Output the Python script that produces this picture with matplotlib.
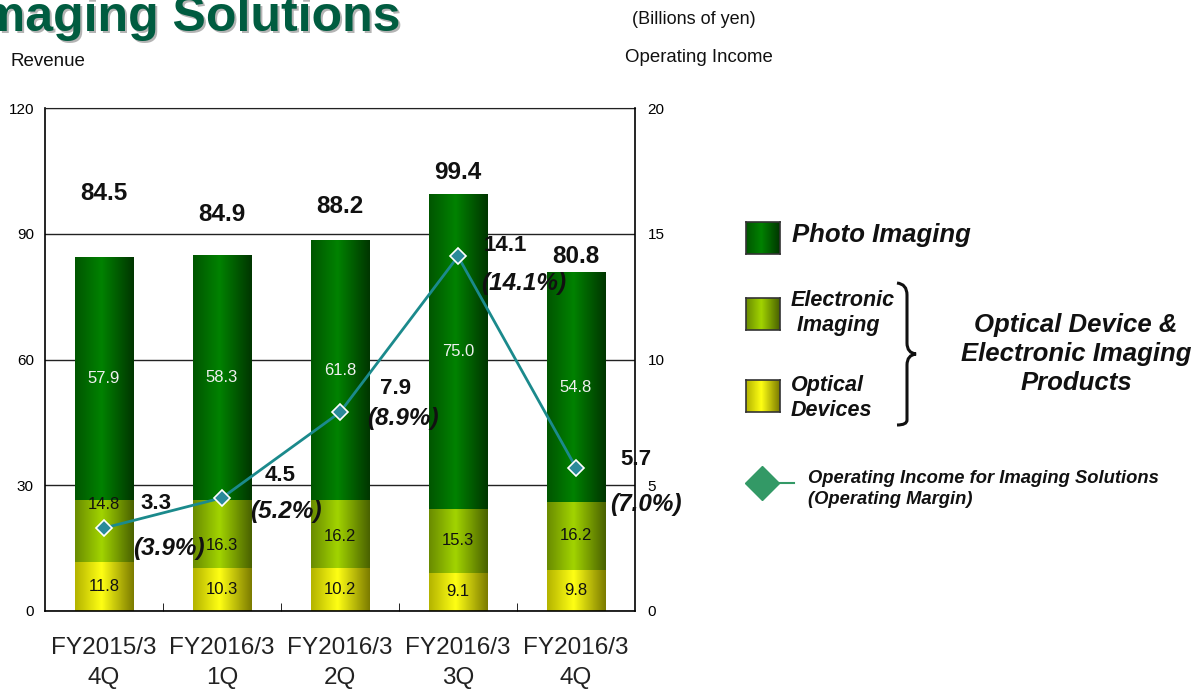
import numpy as np
import matplotlib
matplotlib.use("Agg")
import matplotlib.pyplot as plt
from matplotlib.colors import LinearSegmentedColormap
from matplotlib.path import Path
from matplotlib.patches import PathPatch
from matplotlib.transforms import Affine2D

plt.rcParams['font.family'] = ['Liberation Sans', 'DejaVu Sans']

quarters = ["FY2015/3\n4Q", "FY2016/3\n1Q", "FY2016/3\n2Q", "FY2016/3\n3Q", "FY2016/3\n4Q"]
optical = [11.8, 10.3, 10.2, 9.1, 9.8]
electronic = [14.8, 16.3, 16.2, 15.3, 16.2]
photo = [57.9, 58.3, 61.8, 75.0, 54.8]
totals = [84.5, 84.9, 88.2, 99.4, 80.8]
op_income = [3.3, 4.5, 7.9, 14.1, 5.7]
op_margin = ["(3.9%)", "(5.2%)", "(8.9%)", "(14.1%)", "(7.0%)"]

# how far above each bar the total is printed
total_gap = [15.2, 9.6, 8.2, 5.1, 3.7]
# where the electronic label sits inside its segment (0 = bottom, 1 = top)
elec_pos = [0.92, 0.33, 0.47, 0.5, 0.5]
# label offsets (pixels) from each operating income point
val_off = [(52, 25), (58, 22), (56, 24), (47, 11), (60, 8)]
pct_off = [(65, -20), (64, -14), (63, -6), (66, -27), (70, -37)]

W, H = 1203, 689
fig = plt.figure(figsize=(W / 100, H / 100), dpi=100)

# pixel helper for figure-level decorations
def px(x, y):
    return x / W, 1 - y / H

pix = Affine2D().scale(1 / W, -1 / H).translate(0, 1) + fig.transFigure

def shade(name, left, mid, right):
    return LinearSegmentedColormap.from_list(name, [(0, left), (0.45, mid), (1, right)])

cmaps = {
    'photo': shade('p', '#005600', '#008200', '#003600'),
    'elec': shade('e', '#6a8c00', '#a2d400', '#4a6200'),
    'opt': shade('o', '#b4b400', '#ffff14', '#7c7c00'),
}
grad = np.linspace(0, 1, 64).reshape(1, -1)

ax = fig.add_axes([45 / W, 1 - 611 / H, 590 / W, 503 / H])
x = np.arange(len(quarters))
bw = 0.5

for i in x:
    base = 0
    for val, key in [(optical[i], 'opt'), (electronic[i], 'elec'), (photo[i], 'photo')]:
        ax.imshow(grad, extent=(i - bw / 2, i + bw / 2, base, base + val),
                  aspect='auto', cmap=cmaps[key], zorder=2, interpolation='bilinear')
        base += val
    ax.text(i, optical[i] / 2, f"{optical[i]:.1f}", ha='center', va='center',
            fontsize=12, color='#111111', zorder=4)
    ax.text(i, optical[i] + electronic[i] * elec_pos[i], f"{electronic[i]:.1f}",
            ha='center', va='center', fontsize=12, color='#111111', zorder=4)
    ax.text(i, optical[i] + electronic[i] + photo[i] / 2, f"{photo[i]:.1f}",
            ha='center', va='center', fontsize=12, color='#f0f0f0', zorder=4)
    ax.text(i, totals[i] + total_gap[i], f"{totals[i]:.1f}", ha='center', va='center',
            fontsize=17.5, fontweight='bold', color='#111111', zorder=4)

ax.set_xlim(-0.5, len(quarters) - 0.5)
ax.set_ylim(0, 120)
ax.set_yticks([0, 30, 60, 90, 120])
ax.yaxis.grid(True, color='#222222', linewidth=1)
ax.set_axisbelow(True)
ax.set_xticks(x)
ax.set_xticklabels(quarters, fontsize=17.5, color='#222222', linespacing=1.42)
ax.set_xticks(np.arange(0.5, len(quarters) - 1, 1), minor=True)
ax.tick_params(axis='x', which='major', length=0, pad=19)
ax.tick_params(axis='x', which='minor', direction='in', length=6, color='black')
ax.tick_params(axis='y', labelsize=11, length=0, pad=8)
for s in ['left', 'bottom']:
    ax.spines[s].set_color('black')
    ax.spines[s].set_linewidth(1.2)
ax.spines['top'].set_color('#222222')
ax.spines['right'].set_visible(False)

ax2 = ax.twinx()
ax2.set_ylim(0, 20)
ax2.set_yticks([0, 5, 10, 15, 20])
ax2.tick_params(axis='y', labelsize=11, length=0, pad=9)
ax2.spines['right'].set_color('black')
ax2.spines['right'].set_linewidth(1.2)
for s in ['left', 'top', 'bottom']:
    ax2.spines[s].set_visible(False)
ax2.plot(x, op_income, color='#1b8a8c', linewidth=2, marker='D', markersize=8,
         markerfacecolor='#2a8a9a', markeredgecolor='white', markeredgewidth=1.2, zorder=5)

for i in x:
    ax2.annotate(f"{op_income[i]:.1f}", (i, op_income[i]), xytext=val_off[i],
                 textcoords='offset pixels', ha='center', va='center',
                 fontsize=16, fontweight='bold', color='#111111')
    ax2.annotate(op_margin[i], (i, op_income[i]), xytext=pct_off[i],
                 textcoords='offset pixels', ha='center', va='center',
                 fontsize=17.5, fontweight='bold', style='italic', color='#111111')

# header texts
tx, ty = px(400, 31)
fig.text(tx + 2 / W, ty - 2 / H, "Imaging Solutions", ha='right', va='baseline',
         fontsize=36, fontweight='bold', color='#b4b4b4')
fig.text(tx, ty, "Imaging Solutions", ha='right', va='baseline',
         fontsize=36, fontweight='bold', color='#005c40')
fig.text(*px(10, 61), "Revenue", ha='left', va='center', fontsize=13.5, color='#111111')
fig.text(*px(632, 20), "(Billions of yen)", ha='left', va='center', fontsize=13, color='#111111')
fig.text(*px(625, 57), "Operating Income", ha='left', va='center', fontsize=13.4, color='#111111')

# legend swatches
for (y0, key) in [(222, 'photo'), (298, 'elec'), (380, 'opt')]:
    sw = fig.add_axes([746 / W, 1 - (y0 + 32) / H, 34 / W, 32 / H])
    sw.imshow(grad, aspect='auto', cmap=cmaps[key], interpolation='bilinear')
    sw.set_xticks([])
    sw.set_yticks([])
    for s in sw.spines.values():
        s.set_color('#333333')
        s.set_linewidth(1.2)

bi = dict(fontweight='bold', style='italic', color='#111111')
fig.text(*px(792, 235), "Photo Imaging", ha='left', va='center', fontsize=18.5, **bi)
fig.text(*px(791, 313), "Electronic\n Imaging", ha='left', va='center', fontsize=15.5,
         linespacing=1.3, **bi)
fig.text(*px(791, 398), "Optical\nDevices", ha='left', va='center', fontsize=15.5,
         linespacing=1.3, **bi)
fig.text(*px(1076, 354), "Optical Device &\nElectronic Imaging\nProducts", ha='center',
         va='center', fontsize=18.5, linespacing=1.28, **bi)

# curly brace grouping the two segments
verts = [(897, 283), (907, 284), (907, 295), (907, 300),
         (907, 343), (907, 353), (916, 354),
         (907, 355), (907, 365),
         (907, 413), (907, 420), (907, 425), (897, 425)]
codes = [Path.MOVETO, Path.CURVE3, Path.CURVE3, Path.LINETO,
         Path.LINETO, Path.CURVE3, Path.CURVE3,
         Path.CURVE3, Path.CURVE3,
         Path.LINETO, Path.LINETO, Path.CURVE3, Path.CURVE3]
fig.patches.append(PathPatch(Path(verts, codes), transform=pix, fill=False,
                             edgecolor='#111111', linewidth=2.2))

# operating income legend entry
fig.lines.append(plt.Line2D([760, 794], [483, 483], transform=pix, color='#339966', linewidth=1.5))
fig.lines.append(plt.Line2D([762], [483], transform=pix, marker='D', markersize=17,
                            color='#339966', markeredgecolor='#339966'))
fig.text(*px(808, 489), "Operating Income for Imaging Solutions\n(Operating Margin)",
         ha='left', va='center', fontsize=13.2, linespacing=1.3, **bi)

fig.savefig("out.png", dpi=100)
